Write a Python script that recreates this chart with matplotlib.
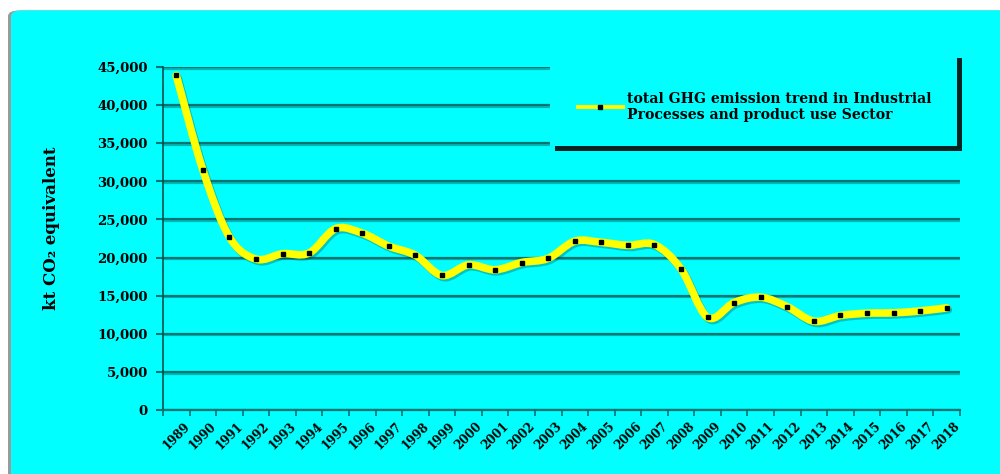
import matplotlib
matplotlib.use("Agg")
import matplotlib.pyplot as plt
import matplotlib.patheffects as pe
from matplotlib.path import Path
from matplotlib.patches import PathPatch, Rectangle, FancyBboxPatch
from matplotlib.lines import Line2D
import numpy as np

# Data (kt CO2 eq)
years = ['1989', '1990', '1991', '1992', '1993', '1994', '1995', '1996', '1997', '1998',
         '1999', '2000', '2001', '2002', '2003', '2004', '2005', '2006', '2007', '2008',
         '2009', '2010', '2011', '2012', '2013', '2014', '2015', '2016', '2017', '2018']
emissions = [43900, 31500, 22700, 19800, 20500, 20600, 23800, 23200, 21500, 20300,
             17650, 19050, 18400, 19350, 19900, 22150, 22000, 21600, 21700, 18500,
             12150, 14100, 14800, 13550, 11650, 12400, 12700, 12750, 13000, 13400]
yticks = [0, 5000, 10000, 15000, 20000, 25000, 30000, 35000, 40000, 45000]
legend_text = 'total GHG emission trend in Industrial\nProcesses and product use Sector'

CYAN = '#00FFFF'
GRID = '#007373'
SERIF = ['DejaVu Serif']

plt.rcParams['font.family'] = SERIF
plt.rcParams['font.weight'] = 'bold'

W, H = 1000.0, 474.0
fig = plt.figure(figsize=(10, 4.74), dpi=100, facecolor='white')

# cyan chart background with rounded corner and grey edge on the left
bg_shadow = FancyBboxPatch((0.008, -0.05), 1.05, 1.028, transform=fig.transFigure,
                           boxstyle='round,pad=0,rounding_size=0.012',
                           facecolor='#9a9a9a', edgecolor='none', zorder=-2)
bg = FancyBboxPatch((0.011, -0.05), 1.05, 1.028, transform=fig.transFigure,
                    boxstyle='round,pad=0,rounding_size=0.012',
                    facecolor=CYAN, edgecolor='none', zorder=-1)
fig.patches.extend([bg_shadow, bg])

ax = fig.add_axes([0.163, 0.135, 0.797, 0.7236])
ax.set_zorder(1)
ax.patch.set_visible(False)

x = np.arange(len(years))
y = np.array(emissions, dtype=float)

# smoothed line (Bezier segments through the points, like a spreadsheet "smoothed line")
verts = [(x[0], y[0])]
codes = [Path.MOVETO]
n = len(x)
for i in range(n - 1):
    p0 = np.array([x[max(i - 1, 0)], y[max(i - 1, 0)]])
    p1 = np.array([x[i], y[i]])
    p2 = np.array([x[i + 1], y[i + 1]])
    p3 = np.array([x[min(i + 2, n - 1)], y[min(i + 2, n - 1)]])
    c1 = p1 + (p2 - p0) / 6.0
    c2 = p2 - (p3 - p1) / 6.0
    verts += [tuple(c1), tuple(c2), tuple(p2)]
    codes += [Path.CURVE4, Path.CURVE4, Path.CURVE4]
curve = PathPatch(Path(verts, codes), facecolor='none', edgecolor='#FFFF00', lw=5.5,
                  capstyle='round', joinstyle='round', zorder=4,
                  path_effects=[pe.SimpleLineShadow(offset=(1.2, -1.5), shadow_color='#004040', alpha=0.3),
                                pe.Normal()])
ax.add_patch(curve)
ax.plot(x, y, linestyle='none', marker='s', markersize=3.2, color='black', zorder=5)

ax.set_xlim(-0.5, n - 0.5)
ax.set_ylim(0, 45000)
ax.set_yticks(yticks)
ax.set_yticklabels([f'{v:,}' for v in yticks], fontsize=9.5, fontweight='bold')
ax.set_xticks(x)
ax.set_xticklabels(years, rotation=45, ha='center', va='top', fontsize=8.5, fontweight='bold')
ax.set_xticks(np.arange(-0.5, n, 1.0), minor=True)
ax.tick_params(axis='x', which='major', length=0, pad=7)
ax.tick_params(axis='x', which='minor', length=4, color=GRID, width=1.2)
ax.tick_params(axis='y', length=5, color=GRID, width=1.5, pad=6)

ax.grid(axis='y', color=GRID, lw=1.6, zorder=1,
        path_effects=[pe.SimpleLineShadow(offset=(0, -1.2), shadow_color='#004848', alpha=0.4), pe.Normal()])
ax.set_axisbelow(True)
for s in ['top', 'right']:
    ax.spines[s].set_visible(False)
ax.spines['left'].set_color('#004f4f')
ax.spines['left'].set_linewidth(1.2)
ax.spines['bottom'].set_color(GRID)
ax.spines['bottom'].set_linewidth(1.6)

ax.set_ylabel('kt CO₂ equivalent', fontsize=12, fontweight='bold')
ax.yaxis.set_label_coords(-0.129, 0.53)

# legend box with dark shadow (figure pixels from the reference)
lx0, ly0, lx1, ly1 = 550, 53, 957, 146
shadow = Rectangle(((lx0 + 5) / W, (H - ly1 - 5) / H), (lx1 - lx0) / W, (ly1 - ly0) / H,
                   transform=fig.transFigure, facecolor='#062424', edgecolor='none', zorder=2)
box = Rectangle((lx0 / W, (H - ly1) / H), (lx1 - lx0) / W, (ly1 - ly0) / H,
                transform=fig.transFigure, facecolor=CYAN, edgecolor='none', zorder=3)
fig.patches.extend([shadow, box])

handle = Line2D([], [], color='#FFFF00', lw=3, marker='s', markersize=3.2,
                markerfacecolor='black', markeredgecolor='black')
leg = fig.legend([handle], [legend_text], loc='upper left',
                 bbox_to_anchor=(572 / W, 1 - 86 / H), frameon=False,
                 handlelength=3.2, handletextpad=0.35, borderaxespad=0,
                 prop={'family': SERIF, 'weight': 'bold', 'size': 10.1})
leg.set_zorder(4)

fig.savefig('out.png', dpi=100, facecolor='white')
